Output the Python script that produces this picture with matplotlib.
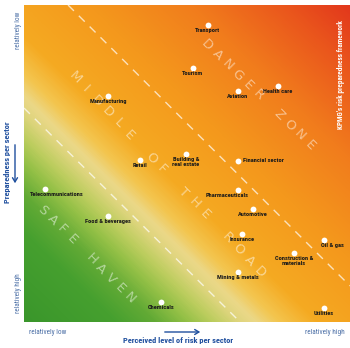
import numpy as np
import matplotlib
matplotlib.use("Agg")
import matplotlib.pyplot as plt
from matplotlib import font_manager
from matplotlib.colors import LinearSegmentedColormap

# sectors: perceived risk (x, 0-10) and preparedness (y, 0-10, top = relatively low)
sectors = ["Transport", "Tourism", "Aviation", "Health care", "Manufacturing",
           "Retail", "Building &\nreal estate", "Financial sector",
           "Telecommunications", "Food & beverages", "Chemicals",
           "Pharmaceuticals", "Automotive", "Insurance", "Oil & gas",
           "Construction &\nmaterials", "Mining & metals", "Utilities"]
risk = [5.64, 5.18, 6.56, 7.79, 2.58, 3.56, 4.97, 6.56, 0.64, 2.58, 4.20,
        6.56, 7.02, 6.69, 9.20, 8.28, 6.56, 9.20]
prep = [9.37, 8.01, 7.29, 7.44, 7.13, 5.11, 5.30, 5.08, 4.20, 3.34, 0.63,
        4.16, 3.56, 2.78, 2.59, 2.18, 1.58, 0.44]

zones = ["DANGER ZONE", "MIDDLE OF THE ROAD", "SAFE HAVEN"]

# label offsets in pixels (dx, dy) from the dot, special cases only
offsets = {"Telecommunications": (12, -3), "Oil & gas": (9, -3),
           "Pharmaceuticals": (-11, -3)}

names = {f.name for f in font_manager.fontManager.ttflist}
narrow = next((n for n in ["Liberation Sans Narrow", "DejaVu Sans Condensed",
                           "Roboto Condensed", "Open Sans Condensed"] if n in names),
              "Liberation Sans")

fig = plt.figure(figsize=(3.5, 3.48), dpi=100)
ax = fig.add_axes([24 / 350, 26 / 348, 326 / 350, 317 / 348])
ax.set_xlim(0, 10)
ax.set_ylim(0, 10)

# diagonal background gradient
cmap = LinearSegmentedColormap.from_list("zone", [
    (0.00, "#3a962b"), (0.14, "#46a02f"), (0.20, "#62aa35"), (0.25, "#93c046"),
    (0.29, "#bccd5e"), (0.33, "#dfd57e"), (0.355, "#ebd888"), (0.39, "#f3c650"),
    (0.45, "#f5aa22"), (0.60, "#f4981c"), (0.76, "#f17c1c"), (0.90, "#ea561c"),
    (1.00, "#e2381c")])
gx, gy = np.meshgrid(np.linspace(0, 10, 300), np.linspace(0, 10, 300))
ax.imshow((gx + gy) / 20, extent=[0, 10, 0, 10], origin="lower", cmap=cmap,
          aspect="auto", vmin=0, vmax=1, interpolation="bilinear", zorder=0)

# dashed boundaries
ax.plot([0, 6.63], [6.75, 0], color="white", lw=1.0, ls=(0, (6, 5)), alpha=0.7)
ax.plot([1.35, 10], [10, 1.14], color="white", lw=1.0, ls=(0, (6, 5)), alpha=0.7)

# spaced zone titles along the diagonal
zone_ends = [((5.61, 8.74), (8.77, 5.58)), ((1.56, 7.70), (7.24, 1.58)),
             ((0.58, 3.53), (3.25, 0.76))]
for word, (p0, p1) in zip(zones, zone_ends):
    n = len(word)
    for i, ch in enumerate(word):
        t = i / (n - 1)
        ax.text(p0[0] + t * (p1[0] - p0[0]), p0[1] + t * (p1[1] - p0[1]), ch,
                color="white", alpha=0.5, fontsize=9.5, rotation=-45,
                ha="center", va="center", rotation_mode="anchor")

ax.plot(risk, prep, "o", color="white", ms=4.2, mec="none", zorder=3)
for name, x, y in zip(sectors, risk, prep):
    if name == "Financial sector":
        ax.annotate(name, (x, y), xytext=(5, 0), textcoords="offset pixels",
                    ha="left", va="center", fontsize=4.6, fontweight="bold",
                    family=narrow, color="#1a1a1a")
        continue
    dx, dy = offsets.get(name, (0, -3))
    ax.annotate(name, (x, y), xytext=(dx, dy), textcoords="offset pixels",
                ha="center", va="top", fontsize=4.6, fontweight="bold",
                family=narrow, color="#1a1a1a", linespacing=1.0)

ax.set_xticks([])
ax.set_yticks([])
for s in ax.spines.values():
    s.set_visible(False)

ax.text(0.972, 0.78, "KPMG's risk preparedness framework", transform=ax.transAxes,
        rotation=90, ha="center", va="center", color="white", fontsize=5.2,
        fontweight="bold", family=narrow)

blue = "#1f4f9e"
light = "#4b6fa6"
fig.text(18 / 350, 1 - 30 / 348, "relatively low", rotation=90, ha="center",
         va="center", color=light, fontsize=5.2, family=narrow)
fig.text(18 / 350, 1 - 293 / 348, "relatively high", rotation=90, ha="center",
         va="center", color=light, fontsize=5.2, family=narrow)
fig.text(8 / 350, 1 - 162 / 348, "Preparedness per sector", rotation=90,
         ha="center", va="center", color=blue, fontsize=6.0, fontweight="bold",
         family=narrow)
fig.text(48 / 350, 1 - 332 / 348, "relatively low", ha="center", va="center",
         color=light, fontsize=5.2, family=narrow)
fig.text(325 / 350, 1 - 332 / 348, "relatively high", ha="center", va="center",
         color=light, fontsize=5.2, family=narrow)
fig.text(178 / 350, 1 - 341 / 348, "Perceived level of risk per sector",
         ha="center", va="center", color=blue, fontsize=6.0, fontweight="bold",
         family=narrow)

# axis arrows
fig.patches.append(matplotlib.patches.FancyArrowPatch(
    (162 / 350, 1 - 332 / 348), (203 / 350, 1 - 332 / 348),
    transform=fig.transFigure, arrowstyle="->,head_length=3,head_width=1.8",
    color=blue, lw=1.0))
fig.patches.append(matplotlib.patches.FancyArrowPatch(
    (15 / 350, 1 - 142 / 348), (15 / 350, 1 - 186 / 348),
    transform=fig.transFigure, arrowstyle="->,head_length=3,head_width=1.8",
    color=blue, lw=1.0))

fig.savefig("out.png", dpi=100)
